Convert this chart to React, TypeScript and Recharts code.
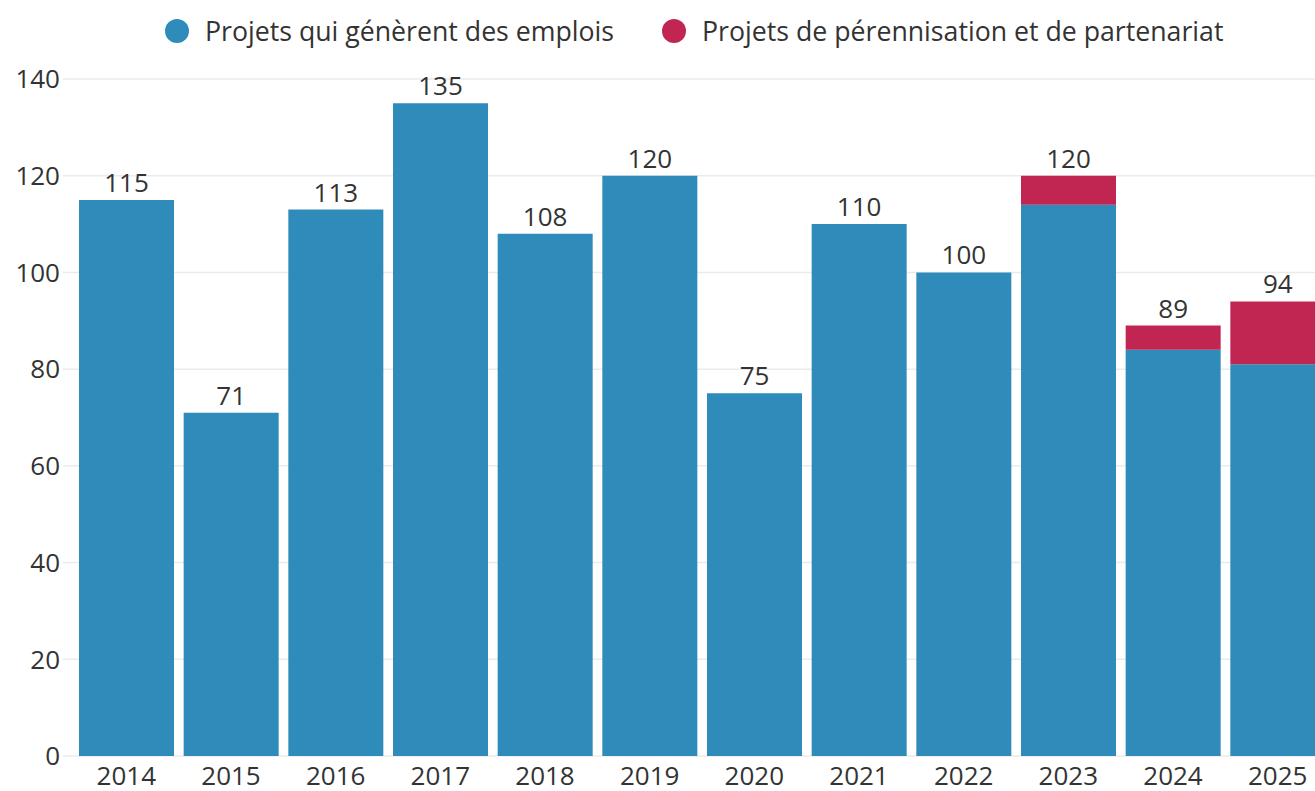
import React from 'react';
import { BarChart, Bar, XAxis, YAxis, CartesianGrid, Legend, LabelList } from 'recharts';

const years = ['2014', '2015', '2016', '2017', '2018', '2019', '2020', '2021', '2022', '2023', '2024', '2025'];
const emplois = [115, 71, 113, 135, 108, 120, 75, 110, 100, 114, 84, 81];
const perennisation = [0, 0, 0, 0, 0, 0, 0, 0, 0, 6, 5, 13];
const yTicks = [0, 20, 40, 60, 80, 100, 120, 140];

const BLUE = '#2e8bba';
const RED = '#c12552';
const TEXT = '#333333';
const FONT = '"Open Sans", "Noto Sans", sans-serif';

const data = years.map((year, i) => ({
  year,
  emplois: emplois[i],
  perennisation: perennisation[i],
  total: emplois[i] + perennisation[i]
}));

const legendItems = [
  { label: 'Projets qui génèrent des emplois', color: BLUE },
  { label: 'Projets de pérennisation et de partenariat', color: RED }
];

const CustomLegend = () => (
  <div style={{ display: 'flex', alignItems: 'center', fontFamily: FONT, fontSize: 26.7, color: TEXT, whiteSpace: 'nowrap' }}>
    {legendItems.map((item, i) => (
      <div key={item.label} style={{ display: 'flex', alignItems: 'center', marginLeft: i === 0 ? 0 : 48 }}>
        <span style={{ width: 24, height: 24, borderRadius: '50%', background: item.color, display: 'inline-block', marginRight: 16 }} />
        <span>{item.label}</span>
      </div>
    ))}
  </div>
);

// label with the stack total, placed above the top of the whole stack
const TotalLabel = (props: any) => {
  const { x, y, width, height, index } = props;
  const d = data[index];
  if (!d) return null;
  const perUnit = height / d.emplois;
  const top = y - d.perennisation * perUnit;
  return (
    <text x={x + width / 2} y={top - 8} textAnchor="middle" fill={TEXT} fontSize={26} fontFamily={FONT}>
      {d.total}
    </text>
  );
};

const App: React.FC = () => {
  return (
    <div style={{ position: 'absolute', left: 0, top: 0, width: 1315, height: 791, overflow: 'hidden', background: '#fff' }}>
      <BarChart
        width={1340}
        height={810}
        data={data}
        margin={{ top: 79, right: 10, bottom: 0, left: 0 }}
        barCategoryGap={5}
      >
        <CartesianGrid vertical={false} stroke="#ebebeb" strokeWidth={1.5} />
        <Legend
          verticalAlign="middle"
          layout="horizontal"
          content={<CustomLegend />}
          wrapperStyle={{ top: 12, left: 165, width: 1150 }}
        />
        <XAxis
          dataKey="year"
          axisLine={false}
          tickLine={false}
          tickSize={0}
          tickMargin={11}
          height={54}
          tick={{ fill: TEXT, fontSize: 26, fontFamily: FONT }}
        />
        <YAxis
          domain={[0, 140]}
          ticks={yTicks}
          width={74}
          axisLine={false}
          tickLine={{ stroke: '#ebebeb', strokeWidth: 1.5 }}
          tickSize={11}
          tickMargin={3}
          tick={{ fill: TEXT, fontSize: 26, fontFamily: FONT }}
        />
        <Bar dataKey="emplois" stackId="a" fill={BLUE} isAnimationActive={false}>
          <LabelList dataKey="total" content={<TotalLabel />} />
        </Bar>
        <Bar dataKey="perennisation" stackId="a" fill={RED} isAnimationActive={false} />
      </BarChart>
    </div>
  );
};

export default App;
